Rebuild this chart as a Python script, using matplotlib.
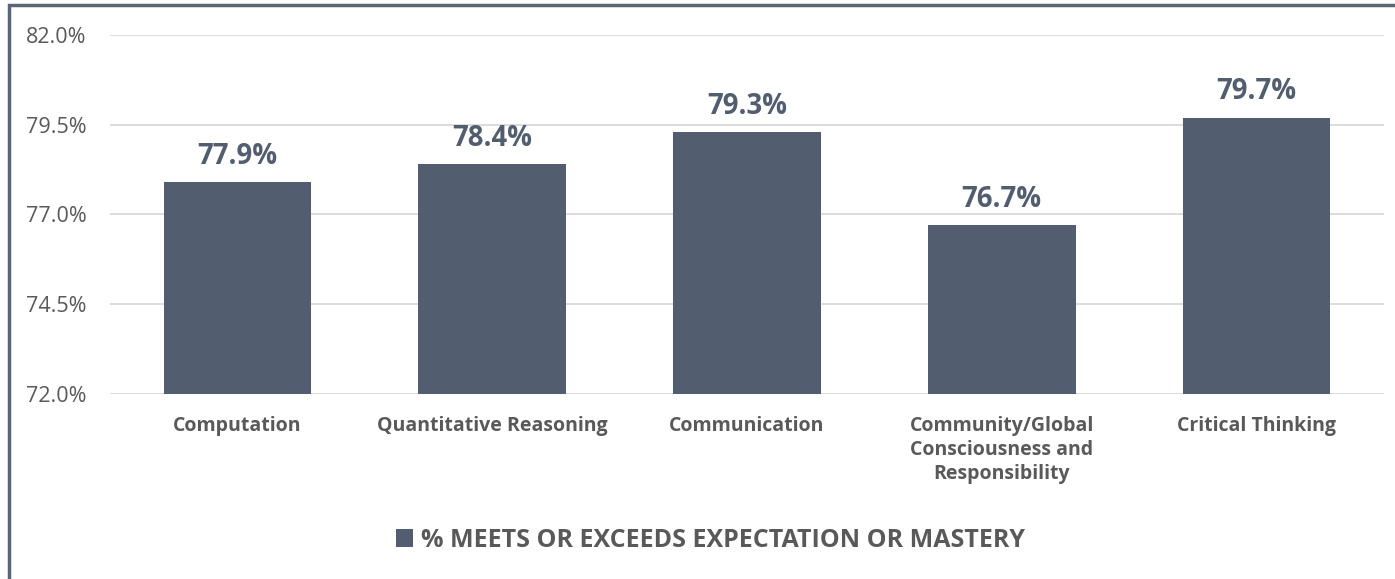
import matplotlib.pyplot as plt
from matplotlib.patches import Rectangle

categories = ['Computation', 'Quantitative Reasoning', 'Communication',
              'Community/Global\nConsciousness and\nResponsibility', 'Critical Thinking']
values = [77.9, 78.4, 79.3, 76.7, 79.7]
yticks = [72.0, 74.5, 77.0, 79.5, 82.0]
series_name = '% MEETS OR EXCEEDS EXPECTATION OR MASTERY'

BAR = '#525e6f'
TXT = '#595959'

plt.rcParams['font.family'] = ['Open Sans', 'DejaVu Sans']

fig = plt.figure(figsize=(13.95, 5.79), dpi=100)
ax = fig.add_axes([0.0789, 0.3195, 0.9131, 0.6201])

x = range(len(categories))
bars = ax.bar(x, [v - yticks[0] for v in values], bottom=yticks[0], width=0.58,
              color=BAR, zorder=3, label=series_name)

for xi, v in zip(x, values):
    ax.annotate(f'{v:.1f}%', (xi, v), xytext=(0, 8), textcoords='offset points',
                ha='center', va='bottom', fontsize=19.8, fontweight='bold', color=BAR)

ax.set_ylim(yticks[0], yticks[-1])
ax.set_xlim(-0.5, len(categories) - 0.5)
ax.set_yticks(yticks)
ax.set_yticklabels([f'{t:.1f}%' for t in yticks], fontsize=15.5, color=TXT)
ax.set_xticks(list(x))
ax.set_xticklabels(categories, fontsize=14, fontweight='bold', color=TXT,
                   linespacing=1.27, va='top')
ax.tick_params(length=0, pad=15.5)
ax.tick_params(axis='y', pad=17)
ax.grid(axis='y', color='#d9d9d9', linewidth=1.3, zorder=0)
for s in ax.spines.values():
    s.set_visible(False)

leg = fig.legend(handles=[bars], labels=[series_name], loc='center',
                 bbox_to_anchor=(0.509, 0.067), frameon=False, handlelength=0.7,
                 handleheight=0.7, handletextpad=0.3,
                 prop={'size': 18, 'weight': 'bold'})
for t in leg.get_texts():
    t.set_color(TXT)

# outer frame (chart border)
fig.patches.append(Rectangle((9 / 1395, -0.05), 1.2, 1 - 5 / 579 + 0.05,
                             transform=fig.transFigure, fill=False,
                             edgecolor='#5a6576', linewidth=2.5))

fig.savefig('out.png', dpi=100)
